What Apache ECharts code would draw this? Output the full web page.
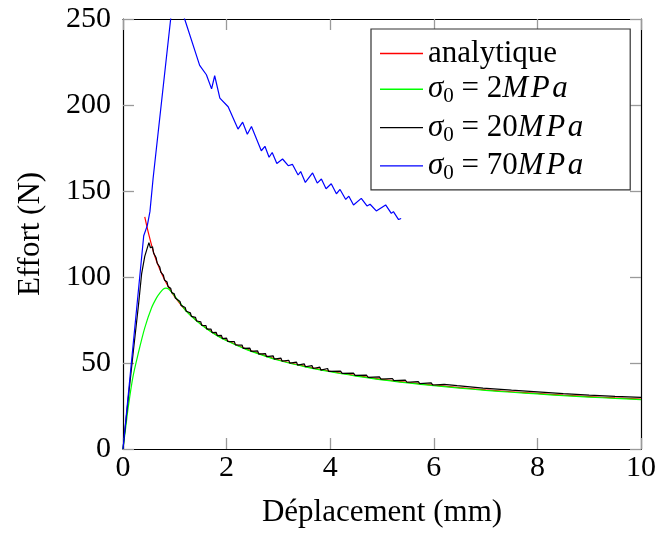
<!DOCTYPE html>
<html>
<head>
<meta charset="utf-8">
<script src="https://cdn.jsdelivr.net/npm/echarts@6/dist/echarts.min.js"></script>
<style>
html,body{margin:0;padding:0;background:#fff;}
#chart{width:659px;height:533px;}
</style>
</head>
<body>
<div id="chart"></div>
<script>
// ---- Data ----
const seriesNames = ['analytique', 'σ0 = 2MPa', 'σ0 = 20MPa', 'σ0 = 70MPa'];
const xTicks = [0, 2, 4, 6, 8, 10];
const yTicks = [0, 50, 100, 150, 200, 250];

const analyticX = [0.42,0.5,0.6,0.7,0.8,0.9,1.0,1.2,1.4,1.6,1.8,2.0,2.4,2.8,3.0,3.5,4.0,4.5,5.0,5.5,6.0,6.5,7.0,7.5,8.0,8.5,9.0,9.5,10];
const analyticY = [135,124.5,113.4,105.2,98.6,93.1,88.5,81.0,75.2,70.5,66.5,63.2,57.9,53.7,51.9,48.2,45.2,42.7,40.5,38.7,37.1,35.7,34.4,33.3,32.3,31.3,30.5,29.7,29.0];

const s2X = [0,0.02,0.05,0.1,0.19,0.29,0.42,0.55,0.65,0.71,0.78,0.83,0.88,0.96,1.05,1.12,1.2,1.4,1.6,1.8,2.0,2.4,2.8,3.0,3.5,4.0,4.5,5.0,5.5,6.0,6.5,7.0,7.5,8.0,8.5,9.0,9.5,10];
const s2Y = [0,5,12,24,41.6,55,70.4,82,88,90.6,93,93.5,93,90.5,86.8,84.3,80.8,75.0,70.2,66.2,62.9,57.6,53.4,51.6,47.9,44.9,42.4,40.2,38.4,36.8,35.4,34.1,33.0,32.0,31.0,30.2,29.4,28.7];

const s20X = [0,0.1,0.2,0.3,0.36,0.42,0.5,0.53,0.55,
  0.57,0.59,0.64,0.66,0.71,0.73,0.78,0.80,0.85,0.87,0.92,0.94,0.99,1.01,
  1.1,1.12,1.2,1.22,1.3,1.32,1.4,1.42,1.5,1.52,1.6,1.62,1.7,1.72,1.8,1.82,1.9,1.92,2.0,2.02,
  2.15,2.17,2.3,2.32,2.45,2.47,2.6,2.62,2.75,2.77,2.9,2.92,3.05,3.07,3.2,3.22,3.35,3.37,3.5,3.52,3.65,3.67,3.8,3.82,3.95,3.97,
  4.2,4.23,4.45,4.48,4.7,4.73,4.95,4.98,5.2,5.23,5.45,5.48,5.7,5.73,5.95,5.98,
  6.2,6.45,6.7,6.95,7.5,8.0,8.5,9.0,9.5,10];
const s20Y = [0,29,57,84,102,112,120,117,118,
  117.5,114.0,111.2,108.0,105.8,102.8,101.1,98.3,97.1,94.4,93.5,90.9,90.2,87.8,
  85.8,83.5,82.3,80.1,79.2,77.1,76.5,74.4,74.0,71.9,71.8,69.7,69.7,67.7,67.8,65.9,66.1,64.2,64.5,62.6,
  62.4,60.5,60.4,58.5,58.6,56.8,57.0,55.2,55.5,53.7,54.1,52.3,52.8,51.1,51.6,49.9,50.5,48.8,49.5,47.8,48.5,46.8,47.6,45.9,46.8,45.1,
  45.3,44.0,44.1,42.8,43.0,41.7,41.9,40.6,41.0,39.7,40.1,38.8,39.2,38.0,38.4,37.2,
  37.6,36.8,36.1,35.4,34.2,33.2,32.2,31.3,30.6,30.0];

const s70X = [0,0.4,0.47,0.52,0.58,0.92,0.99,1.19,1.48,1.61,1.71,1.77,1.87,2.03,2.22,2.31,2.40,2.48,2.67,2.74,2.82,2.88,2.97,3.08,3.19,3.27,3.38,3.43,3.52,3.66,3.75,3.83,3.92,4.02,4.12,4.19,4.30,4.36,4.45,4.60,4.71,4.77,4.89,5.07,5.18,5.22,5.32,5.37];
const s70Y = [0,124,130,138,157,250,268,250,223,217.6,209.4,217,204,199,186,190,183,187.5,173.4,176,169.6,172.4,166,168.6,164.7,165.5,159.3,161.3,155,160.5,154.6,157,151.3,154.2,148.4,150.9,145.1,147,141.9,145.7,141.3,142.3,138.4,141.9,137,138,133.4,134];

const colors = ['#ff0000', '#00ff00', '#000000', '#0000ff'];

function pairs(xs, ys) { return xs.map((x, i) => [x, ys[i]]); }

const FONT = 'Liberation Serif';
const chart = echarts.init(document.getElementById('chart'));

function axisCommon(extra) {
  return Object.assign({
    type: 'value',
    axisLine: { show: true, onZero: false, lineStyle: { color: '#000', width: 1.2 } },
    axisTick: { show: true, inside: true, length: 11, lineStyle: { color: '#9a9a9a', width: 1.3 } },
    splitLine: { show: false }
  }, extra);
}

const legendRich = {
  t: { fontFamily: FONT, fontSize: 31, color: '#000', lineHeight: 36 },
  i: { fontFamily: FONT, fontSize: 31, fontStyle: 'italic', color: '#000', lineHeight: 36 },
  s: { fontFamily: FONT, fontSize: 21, color: '#000', lineHeight: 20, verticalAlign: 'bottom' }
};

chart.setOption({
  animation: false,
  backgroundColor: '#fff',
  grid: { left: 123, right: 17, top: 19, bottom: 81, containLabel: false },
  xAxis: [
    axisCommon({
      min: 0, max: 10, interval: 2, position: 'bottom',
      axisLabel: { fontFamily: FONT, fontSize: 30, color: '#000', margin: 4,
        formatter: v => xTicks.includes(v) ? String(v) : '' },
      name: 'Déplacement (mm)', nameLocation: 'middle', nameGap: 48,
      nameTextStyle: { fontFamily: FONT, fontSize: 31, color: '#000' }
    }),
    axisCommon({
      min: 0, max: 10, interval: 2, position: 'top',
      axisLabel: { show: false }
    })
  ],
  yAxis: [
    axisCommon({
      min: 0, max: 250, interval: 50, position: 'left',
      axisLabel: { fontFamily: FONT, fontSize: 30, color: '#000', margin: 12,
        formatter: v => yTicks.includes(v) ? String(v) : '' },
      name: 'Effort (N)', nameLocation: 'middle', nameGap: 77, nameRotate: 90,
      nameTextStyle: { fontFamily: FONT, fontSize: 31, color: '#000' }
    }),
    axisCommon({
      min: 0, max: 250, interval: 50, position: 'right',
      axisLabel: { show: false }
    })
  ],
  legend: {
    data: seriesNames,
    orient: 'vertical',
    left: 371, top: 29,
    padding: [9, 47, 6, 9],
    itemGap: 4.8,
    itemWidth: 43, itemHeight: 1.4,
    icon: 'rect',
    backgroundColor: '#fff',
    borderColor: '#333', borderWidth: 1.2, borderRadius: 0,
    textStyle: { rich: legendRich },
    formatter: function (name) {
      if (name === 'analytique') return '{t|analytique}';
      const m = name.match(/σ0 = (\d+)MPa/);
      return '{i|σ}{s|0}{t|\u2005=\u2005' + m[1] + '}{i|M\u200aP\u200aa}';
    }
  },
  series: [
    { name: seriesNames[0], type: 'line', data: pairs(analyticX, analyticY), smooth: 0.3, showSymbol: false, symbol: 'none', lineStyle: { color: colors[0], width: 1.2 }, itemStyle: { color: colors[0] }, clip: true },
    { name: seriesNames[1], type: 'line', data: pairs(s2X, s2Y), smooth: 0.3, showSymbol: false, symbol: 'none', lineStyle: { color: colors[1], width: 1.2 }, itemStyle: { color: colors[1] }, clip: true },
    { name: seriesNames[2], type: 'line', data: pairs(s20X, s20Y), showSymbol: false, symbol: 'none', lineStyle: { color: colors[2], width: 1.2 }, itemStyle: { color: colors[2] }, clip: true },
    { name: seriesNames[3], type: 'line', data: pairs(s70X, s70Y), showSymbol: false, symbol: 'none', lineStyle: { color: colors[3], width: 1.2 }, itemStyle: { color: colors[3] }, clip: true }
  ]
});
</script>
</body>
</html>
